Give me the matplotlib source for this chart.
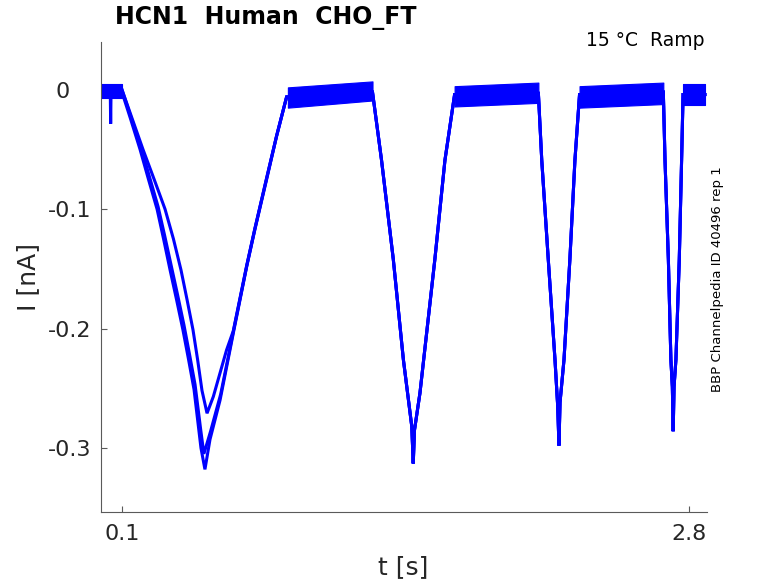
import matplotlib
matplotlib.use("Agg")
import matplotlib.pyplot as plt
import matplotlib.transforms as mtransforms

matplotlib.rcParams['font.family'] = ['DejaVu Sans']

# sweep-specific part of the first (slow) ramp, t in s, I in nA
t_sweep1 = [0.0, 0.098, 0.14, 0.186, 0.226, 0.267, 0.298, 0.329, 0.36, 0.39, 0.417, 0.443, 0.476, 0.495,
            0.519, 0.567, 0.63, 0.694, 0.733, 0.789, 0.836, 0.884]
i_sweep1 = [-0.001, -0.001, -0.024, -0.05, -0.075, -0.1, -0.125, -0.151, -0.176, -0.201, -0.226, -0.251, -0.3, -0.318,
            -0.293, -0.26, -0.204, -0.148, -0.117, -0.075, -0.039, -0.006]

t_sweep2 = [0.0, 0.044, 0.046, 0.048, 0.1, 0.143, 0.19, 0.231, 0.272, 0.303, 0.334, 0.365, 0.395, 0.422, 0.448,
            0.475, 0.49, 0.522, 0.57, 0.632, 0.696, 0.735, 0.79, 0.837, 0.884]
i_sweep2 = [0.001, 0.0, -0.0285, 0.0, 0.0, -0.023, -0.048, -0.073, -0.098, -0.122, -0.147, -0.172, -0.197, -0.222, -0.247,
            -0.285, -0.305, -0.286, -0.255, -0.201, -0.146, -0.115, -0.073, -0.038, -0.006]

t_sweep3 = [0.0, 0.1, 0.2, 0.253, 0.305, 0.345, 0.381, 0.41, 0.438, 0.46, 0.481, 0.505,
            0.535, 0.598, 0.63, 0.694, 0.733, 0.789, 0.836, 0.884]
i_sweep3 = [0.0, 0.0, -0.05, -0.075, -0.1, -0.125, -0.151, -0.176, -0.201, -0.226, -0.252, -0.271,
            -0.257, -0.218, -0.202, -0.147, -0.116, -0.074, -0.039, -0.006]

# common part (identical for all sweeps) after the first ramp
t_common = [0.89, 1.0, 1.15, 1.293,
            1.336, 1.392, 1.44, 1.48, 1.487, 1.493, 1.519, 1.59, 1.638, 1.684,
            1.85, 2.083,
            2.099, 2.13, 2.162, 2.175, 2.181, 2.186, 2.205, 2.233, 2.257, 2.279,
            2.5, 2.678,
            2.686, 2.702, 2.714, 2.721, 2.725, 2.729, 2.738, 2.754, 2.765, 2.772,
            2.876]
i_common = [-0.006, -0.005, -0.004, -0.002,
            -0.059, -0.142, -0.226, -0.282, -0.313, -0.285, -0.254, -0.142, -0.059, -0.004,
            -0.004, -0.003,
            -0.059, -0.142, -0.226, -0.265, -0.298, -0.262, -0.226, -0.142, -0.059, -0.004,
            -0.004, -0.002,
            -0.059, -0.142, -0.226, -0.249, -0.286, -0.249, -0.226, -0.142, -0.059, -0.004,
            -0.004]

# noise envelope on the holding plateaus: start, end, low start, low end, high start, high end
plateau_t0 = [0.0, 0.89, 1.684, 2.279, 2.772]
plateau_t1 = [0.098, 1.293, 2.083, 2.678, 2.876]
plateau_lo0 = [-0.007, -0.015, -0.014, -0.015, -0.013]
plateau_lo1 = [-0.007, -0.009, -0.011, -0.012, -0.013]
plateau_hi0 = [0.005, 0.002, 0.003, 0.003, 0.005]
plateau_hi1 = [0.005, 0.007, 0.006, 0.006, 0.005]

y_ticks = [0, -0.1, -0.2, -0.3]
y_labels = ['0', '-0.1', '-0.2', '-0.3']
x_ticks = [0.1, 2.8]
x_labels = ['0.1', '2.8']

blue = (0, 0, 1)
fig = plt.figure(figsize=(7.78, 5.83), dpi=100)
ax = fig.add_axes([101 / 778, 1 - 512 / 583, 606 / 778, 470 / 583])

for ts, ys in [(t_sweep1, i_sweep1), (t_sweep2, i_sweep2), (t_sweep3, i_sweep3)]:
    ax.plot(ts + t_common, ys + i_common, color=blue, lw=2.2, solid_joinstyle='miter')

for k in range(len(plateau_t0)):
    ax.fill_between([plateau_t0[k], plateau_t1[k]], [plateau_lo0[k], plateau_lo1[k]],
                    [plateau_hi0[k], plateau_hi1[k]], color=blue, lw=0.8)

ax.set_xlim(0, 2.886)
ax.set_ylim(-0.3537, 0.040)
ax.spines['top'].set_visible(False)
ax.spines['right'].set_visible(False)
for s in ['left', 'bottom']:
    ax.spines[s].set_color('#5a5a5a')
    ax.spines[s].set_linewidth(0.8)
ax.set_yticks(y_ticks)
ax.set_yticklabels(y_labels)
ax.set_xticks(x_ticks)
ax.set_xticklabels(x_labels)
ax.tick_params(direction='in', length=4.5, width=0.8, color='#5a5a5a',
               labelsize=16, labelcolor='#262626')
ax.tick_params(axis='y', pad=7)
ax.tick_params(axis='x', pad=9)
# the zero label sits left of the others in the original
zero = ax.get_yticklabels()[0]
zero.set_transform(zero.get_transform() + mtransforms.ScaledTranslation(-22 / 100, 0, fig.dpi_scale_trans))

fig.text(28 / 778, 1 - 277 / 583, 'I [nA]', rotation=90, fontsize=18, color='#262626',
         ha='center', va='center')
fig.text(403 / 778, 1 - 567 / 583, 't [s]', fontsize=18, color='#262626',
         ha='center', va='center')
fig.text(115 / 778, 1 - 18 / 583, 'HCN1  Human  CHO_FT', fontsize=17, fontweight='bold',
         ha='left', va='center')
fig.text(705 / 778, 1 - 41 / 583, '15 °C  Ramp', fontsize=13.5, ha='right', va='center')
fig.text(717 / 778, 1 - 279 / 583, 'BBP Channelpedia ID 40496 rep 1', fontsize=9.5,
         rotation=90, ha='center', va='center')

fig.savefig('out.png', dpi=100)
